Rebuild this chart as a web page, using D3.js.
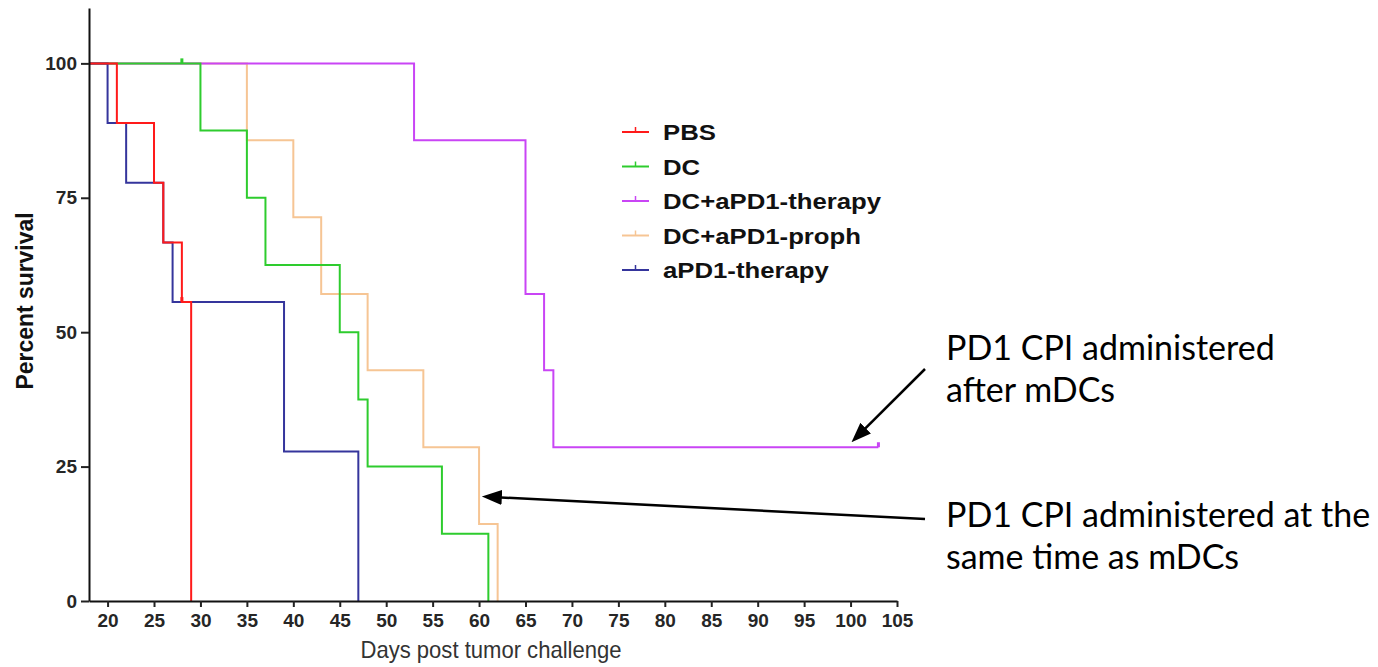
<!DOCTYPE html>
<meta charset="utf-8">
<style>
body { margin: 0; background: #fff; }
svg { display: block; }
</style>
<body>
<script src="https://d3js.org/d3.v7.min.js"></script>
<script>

// survival steps (day of drop, percent after drop)
const pbsDays = [0, 21, 25, 26, 28, 29];
const pbsSurv = [100, 88.9, 77.8, 66.7, 55.6, 0];
const dcDays = [0, 30, 35, 37, 45, 47, 48, 56, 61];
const dcSurv = [100, 87.5, 75, 62.5, 50, 37.5, 25, 12.5, 0];
const therapyDays = [0, 53, 65, 67, 68, 103];
const therapySurv = [100, 85.7, 57.1, 42.9, 28.6, 28.6];
const prophDays = [0, 35, 40, 43, 48, 54, 60, 62];
const prophSurv = [100, 85.7, 71.4, 57.1, 42.9, 28.6, 14.3, 0];
const apd1Days = [0, 20, 22, 26, 27, 39, 47];
const apd1Surv = [100, 88.9, 77.8, 66.7, 55.6, 27.8, 0];

// censored marks
const censorNames = ['DC', 'PBS', 'DC+aPD1-therapy'];
const censorDays = [28, 28, 103];
const censorSurv = [100, 55.6, 28.6];

const seriesNames = ['PBS', 'DC', 'DC+aPD1-therapy', 'DC+aPD1-proph', 'aPD1-therapy'];
const seriesColors = ['#ff1a1a', '#2ecc2e', '#c945f5', '#f6c594', '#35359c'];
const xTicks = d3.range(20, 106, 5);
const yTicks = [0, 25, 50, 75, 100];

const notes = [
	['PD1 CPI administered', 'after mDCs'],
	['PD1 CPI administered at the', 'same time as mDCs']
];

let width = 1378, height = 667;

let svg = d3.select('body').append('svg')
	.attr('width', width)
	.attr('height', height);

let x = d3.scaleLinear().domain([18, 105]).range([89, 897]);
let y = d3.scaleLinear().domain([0, 110.3]).range([601, 8]);
let color = d3.scaleOrdinal().domain(seriesNames).range(seriesColors);

let series = [
	{name: 'PBS', days: pbsDays, surv: pbsSurv},
	{name: 'DC', days: dcDays, surv: dcSurv},
	{name: 'DC+aPD1-therapy', days: therapyDays, surv: therapySurv},
	{name: 'DC+aPD1-proph', days: prophDays, surv: prophSurv},
	{name: 'aPD1-therapy', days: apd1Days, surv: apd1Surv}
];
// drawing order so the overlaps look like the original
let drawOrder = ['DC+aPD1-proph', 'DC+aPD1-therapy', 'DC', 'aPD1-therapy', 'PBS'];

svg.append('clipPath').attr('id', 'plot')
	.append('rect')
	.attr('x', x(18)).attr('y', 0)
	.attr('width', x(105) - x(18) + 10).attr('height', y(0) + 2);

let line = d3.line()
	.x(d => x(d[0]))
	.y(d => y(d[1]))
	.curve(d3.curveStepAfter);

let curves = svg.append('g').attr('clip-path', 'url(#plot)');
drawOrder.forEach(name => {
	let s = series.find(d => d.name === name);
	let pts = s.days.map((d, i) => [d, s.surv[i]]);
	curves.append('path')
		.attr('d', line(pts))
		.attr('fill', 'none')
		.attr('stroke', color(name))
		.attr('stroke-width', 2);
});

// censor ticks
censorDays.forEach((d, i) => {
	svg.append('line')
		.attr('x1', x(d)).attr('x2', x(d))
		.attr('y1', y(censorSurv[i])).attr('y2', y(censorSurv[i]) - 5)
		.attr('stroke', color(censorNames[i]))
		.attr('stroke-width', 3);
});

// axes
let xAxis = svg.append('g')
	.attr('transform', 'translate(0,' + y(0) + ')')
	.call(d3.axisBottom(x).tickValues(xTicks).tickSize(6).tickSizeOuter(0).tickPadding(7));
let yAxis = svg.append('g')
	.attr('transform', 'translate(' + x(18) + ',0)')
	.call(d3.axisLeft(y).tickValues(yTicks).tickSize(8).tickSizeOuter(0).tickPadding(4));

[xAxis, yAxis].forEach(a => {
	a.select('.domain').attr('stroke', '#111').attr('stroke-width', 2);
	a.selectAll('.tick line').attr('stroke', '#222').attr('stroke-width', 2);
	a.selectAll('.tick text')
		.attr('fill', '#262626')
		.style('font-family', '"Liberation Sans", Arial, sans-serif')
		.style('font-weight', 'bold')
		.style('font-size', '19px');
});

svg.append('text')
	.attr('x', 491).attr('y', 658)
	.attr('text-anchor', 'middle')
	.attr('textLength', 261).attr('lengthAdjust', 'spacingAndGlyphs')
	.attr('fill', '#333')
	.style('font-family', '"Liberation Sans", Arial, sans-serif')
	.style('font-size', '24px')
	.text('Days post tumor challenge');

svg.append('text')
	.attr('transform', 'translate(33,301) rotate(-90)')
	.attr('text-anchor', 'middle')
	.attr('textLength', 177).attr('lengthAdjust', 'spacingAndGlyphs')
	.attr('fill', '#111')
	.style('font-family', '"Liberation Sans", Arial, sans-serif')
	.style('font-weight', 'bold')
	.style('font-size', '23px')
	.text('Percent survival');

// legend
let legend = svg.append('g');
seriesNames.forEach((name, i) => {
	let ly = 132 + i * 34.5;
	let g = legend.append('g').attr('transform', 'translate(622,' + ly + ')');
	g.append('line').attr('x1', 0).attr('x2', 27).attr('y1', 0).attr('y2', 0)
		.attr('stroke', color(name)).attr('stroke-width', 2);
	g.append('line').attr('x1', 13.5).attr('x2', 13.5).attr('y1', 0).attr('y2', -5)
		.attr('stroke', color(name)).attr('stroke-width', 1.5);
	g.append('text')
		.attr('transform', 'translate(41,8) scale(1.17,1)')
		.attr('fill', '#111')
		.style('font-family', '"Liberation Sans", Arial, sans-serif')
		.style('font-weight', 'bold')
		.style('font-size', '22px')
		.text(name);
});

// annotations
let notePos = [[946, 360], [946, 527]];
notes.forEach((lines, k) => {
	lines.forEach((t, j) => {
		svg.append('text')
			.attr('x', notePos[k][0]).attr('y', notePos[k][1] + j * 41.5)
			.attr('fill', '#000')
			.style('font-family', 'Lato, "Open Sans", sans-serif')
			.style('font-size', '34px')
			.text(t);
	});
});

svg.append('defs').append('marker')
	.attr('id', 'head')
	.attr('markerUnits', 'userSpaceOnUse')
	.attr('viewBox', '0 -8 20 16')
	.attr('markerWidth', 20).attr('markerHeight', 16)
	.attr('refX', 10).attr('refY', 0)
	.attr('orient', 'auto')
	.append('path').attr('d', 'M0,-7.5L20,0L0,7.5Z').attr('fill', '#000');

let arrows = [
	[925, 369, x(100.1), y(28.6) - 5],
	[925, 519, x(60.3), 496.5]
];
arrows.forEach(a => {
	let dx = a[2] - a[0], dy = a[3] - a[1];
	let len = Math.sqrt(dx * dx + dy * dy);
	let ex = a[2] - dx / len * 10, ey = a[3] - dy / len * 10;
	svg.append('line')
		.attr('x1', a[0]).attr('y1', a[1])
		.attr('x2', ex).attr('y2', ey)
		.attr('stroke', '#000').attr('stroke-width', 2.5)
		.attr('marker-end', 'url(#head)');
});

</script>
</body>
